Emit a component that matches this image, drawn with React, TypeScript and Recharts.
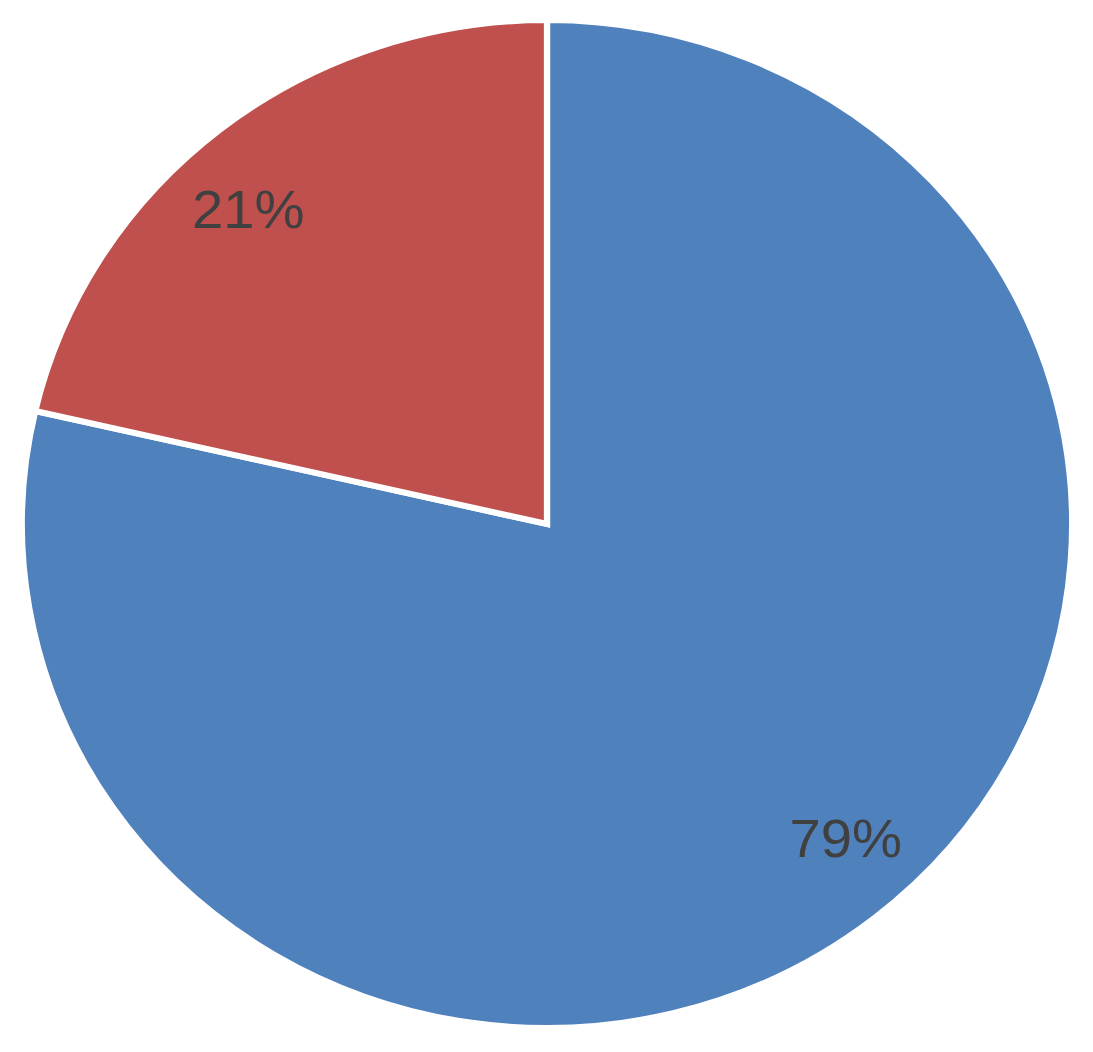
import React from 'react';
import { PieChart, Pie, Cell } from 'recharts';

const categories = ['Blue', 'Red'];
// shown as 79% / 21%, the red wedge measures a touch over 21%
const shares = [78.6, 21.4];
const colors = ['#4F81BD', '#C0504D'];

const data = categories.map((name, i) => ({ name, value: shares[i] }));

const RADIAN = Math.PI / 180;

const renderLabel = (props: any) => {
    const { cx, cy, midAngle, outerRadius, percent } = props;
    // labels sit a little counter-clockwise of the slice middle in the original
    const angle = midAngle + 3.8;
    const r = outerRadius * 0.845;
    const x = cx + r * Math.cos(-angle * RADIAN);
    const y = cy + r * Math.sin(-angle * RADIAN);
    return (
        <text
            x={x}
            y={y}
            fill="#404040"
            textAnchor="middle"
            dominantBaseline="central"
            fontFamily="'Liberation Sans', Arial, sans-serif"
            fontSize={54}
        >
            {`${Math.round(percent * 100)}%`}
        </text>
    );
};

export default function App() {
    return (
        <div style={{ position: 'absolute', left: 0, top: 0, width: 1093, height: 1052, background: '#fff' }}>
            {/* the source image is slightly wider than tall */}
            <div style={{ transform: 'scaleX(1.042)', transformOrigin: '547px 524px' }}>
                <PieChart width={1093} height={1052} margin={{ top: 0, right: 0, bottom: 0, left: 0 }}>
                    <Pie
                        data={data}
                        dataKey="value"
                        cx={547}
                        cy={524}
                        outerRadius={504}
                        startAngle={90}
                        endAngle={-270}
                        stroke="#fff"
                        strokeWidth={6}
                        label={renderLabel}
                        labelLine={false}
                        isAnimationActive={false}
                    >
                        {data.map((d, i) => (
                            <Cell key={d.name} fill={colors[i]} />
                        ))}
                    </Pie>
                </PieChart>
            </div>
        </div>
    );
}
